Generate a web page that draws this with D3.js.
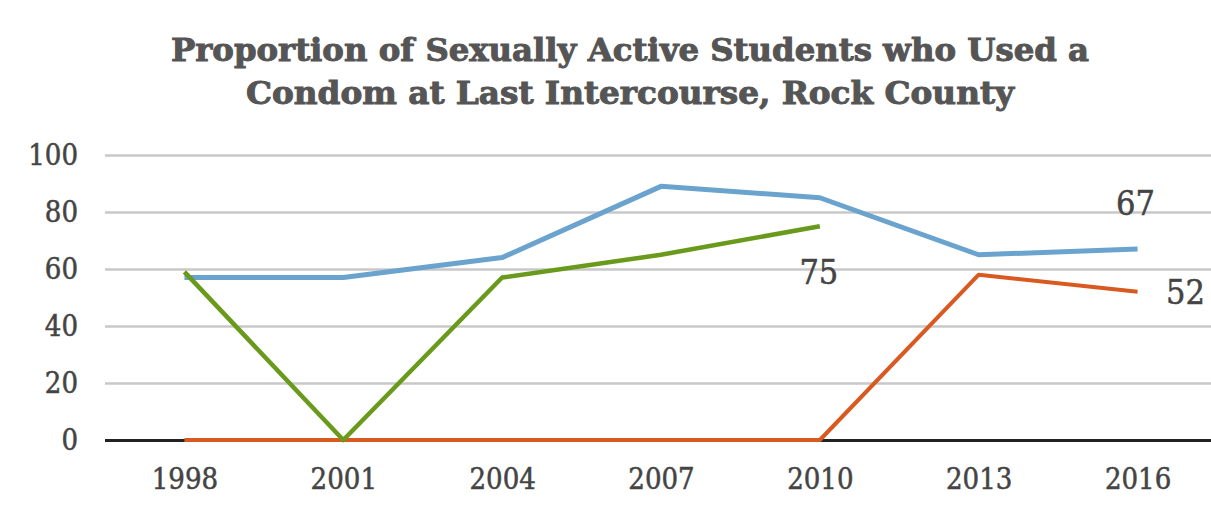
<!DOCTYPE html>
<html>
<head>
<meta charset="utf-8">
<script src="https://cdn.jsdelivr.net/npm/d3@7"></script>
<style>
  body { margin: 0; background: #fff; }
  .tick text { font-family: "DejaVu Serif Condensed", "DejaVu Serif", serif; fill: #444; stroke: #444; stroke-width: 0.5px; }
</style>
</head>
<body>
<svg id="chart" width="1211" height="518"></svg>
<script>
var years = ["1998", "2001", "2004", "2007", "2010", "2013", "2016"];
var blueVals = [57, 57, 64, 89, 85, 65, 67];
var greenVals = [59, 0, 57, 65, 75, null, null];
var orangeVals = [0, 0, 0, 0, 0, 58, 52];
var yTicks = [0, 20, 40, 60, 80, 100];
var titleLines = ["Proportion of Sexually Active Students who Used a", "Condom at Last Intercourse, Rock County"];

var svg = d3.select("#chart"),
	margin = {top: 155, right: -6, bottom: 78, left: 105},
	width = +svg.attr("width") - margin.left - margin.right,
	height = +svg.attr("height") - margin.top - margin.bottom;

var x = d3.scalePoint().domain(years).range([0, width]).padding(0.5);
var y = d3.scaleLinear().domain([0, 100]).range([height, 0]);

var g = svg.append("g")
	.attr("transform", "translate(" + margin.left + "," + margin.top + ")");

// title
svg.selectAll(".title")
	.data(titleLines)
  .enter().append("text")
	.attr("class", "title")
	.attr("x", 630)
	.attr("y", function(d, i) { return 61 + i * 43; })
	.attr("text-anchor", "middle")
	.style("font-family", "'DejaVu Serif Condensed', 'DejaVu Serif', serif")
	.style("font-weight", "bold")
	.style("font-size", "32px")
	.style("fill", "#555")
	.style("stroke", "#555")
	.style("stroke-width", "0.9px")
	.attr("textLength", function(d, i) { return i == 0 ? 918 : 768; })
	.attr("lengthAdjust", "spacingAndGlyphs")
	.text(function(d) { return d; });

// grid + y labels
var yAxis = g.append("g")
	.attr("class", "y axis")
	.call(d3.axisLeft(y).tickValues(yTicks).tickSize(-width).tickPadding(27));
yAxis.select(".domain").remove();
yAxis.selectAll(".tick line")
	.attr("stroke", function(d) { return d == 0 ? "#222" : "#c8c8c8"; })
	.attr("stroke-width", function(d) { return d == 0 ? 3 : 2.5; });
yAxis.selectAll(".tick text").style("font-size", "29px");

var xAxis = g.append("g")
	.attr("class", "x axis")
	.attr("transform", "translate(0," + height + ")")
	.call(d3.axisBottom(x).tickSize(0).tickPadding(28));
xAxis.select(".domain").remove();
xAxis.selectAll(".tick text").style("font-size", "29px");

var line = d3.line()
	.defined(function(d) { return d.v != null; })
	.x(function(d) { return x(d.k); })
	.y(function(d) { return y(d.v); });

var series = [
	{name: "blue", color: "#6aa3cd", vals: blueVals, w: 5},
	{name: "orange", color: "#d85a20", vals: orangeVals, w: 4},
	{name: "green", color: "#6a9a1c", vals: greenVals, w: 4.5}
];

series.forEach(function(s) {
	g.append("path")
		.datum(years.map(function(k, i) { return {k: k, v: s.vals[i]}; }))
		.attr("fill", "none")
		.attr("stroke", s.color)
		.attr("stroke-width", s.w)
		.attr("stroke-linejoin", "round")
		.attr("d", line);
});

// value labels
var labels = [
	{k: "2010", v: 75, dx: -1, dy: 46},
	{k: "2016", v: 67, dx: -2, dy: -46},
	{k: "2016", v: 52, dx: 48, dy: 0}
];
g.selectAll(".vlabel")
	.data(labels)
  .enter().append("text")
	.attr("class", "vlabel")
	.attr("x", function(d) { return x(d.k) + d.dx; })
	.attr("y", function(d) { return y(d.v) + d.dy; })
	.attr("text-anchor", "middle")
	.attr("dominant-baseline", "central")
	.style("font-family", "'DejaVu Serif Condensed', 'DejaVu Serif', serif")
	.style("font-size", "34px")
	.style("fill", "#444")
	.style("stroke", "#444")
	.style("stroke-width", "0.5px")
	.text(function(d) { return d.v; });
</script>
</body>
</html>
